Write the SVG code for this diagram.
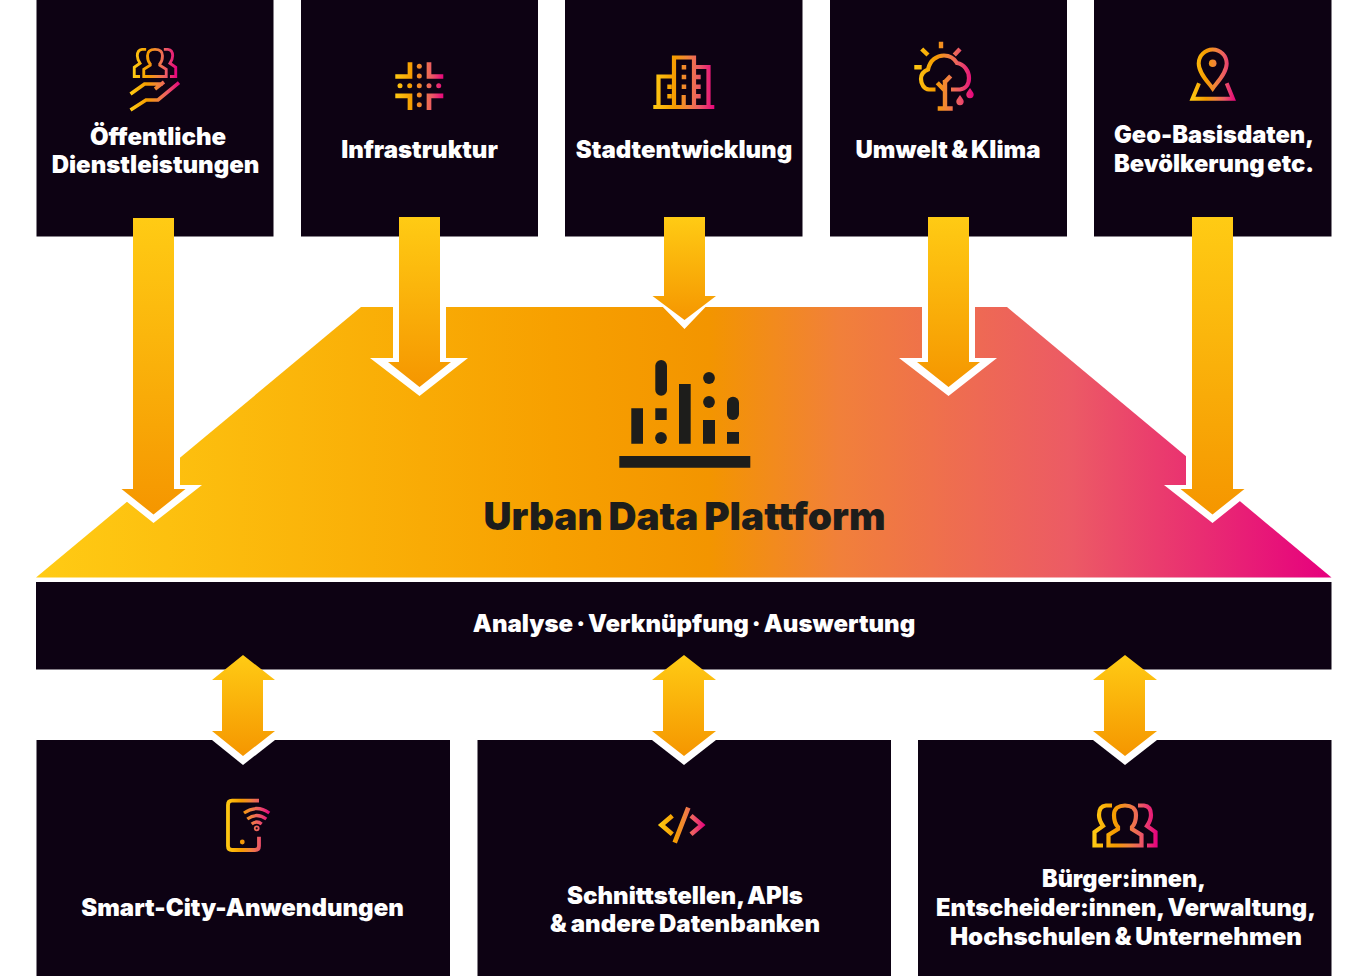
<svg xmlns="http://www.w3.org/2000/svg" xmlns:xlink="http://www.w3.org/1999/xlink" width="1366" height="976" viewBox="0 0 1366 976">
<style>
.box{fill:#0d0213}
.t{font-family:Inter,"Liberation Sans",sans-serif;font-weight:900;fill:#fff;font-size:24px;text-anchor:middle;word-spacing:-1px}
.s{fill:none;stroke-linejoin:miter}
.w{fill:#fff}
.a{fill:url(#ga)}
.b{fill:url(#gb)}
.k{fill:#1d1d1b}
</style>
<defs>
<linearGradient id="gt" gradientUnits="userSpaceOnUse" x1="36" y1="0" x2="1331" y2="0"><stop offset="0" stop-color="#ffcb14"/><stop offset=".4" stop-color="#f7a000"/><stop offset=".52" stop-color="#f39500"/><stop offset=".62" stop-color="#f1803a"/><stop offset=".8" stop-color="#ec5a65"/><stop offset="1" stop-color="#e6007e"/></linearGradient>
<linearGradient id="ga" gradientUnits="objectBoundingBox" x1="0" y1="0" x2="0" y2="1"><stop offset="0" stop-color="#ffcb14"/><stop offset="1" stop-color="#f59600"/></linearGradient>
<linearGradient id="gb" gradientUnits="objectBoundingBox" x1="0" y1="0" x2="0" y2="1"><stop offset="0" stop-color="#ffcb14"/><stop offset="1" stop-color="#f59600"/></linearGradient>
<linearGradient id="ic" gradientUnits="userSpaceOnUse" x1="0" y1="0" x2="1" y2="0"><stop offset="0" stop-color="#ffcb14"/><stop offset=".35" stop-color="#f59b00"/><stop offset=".55" stop-color="#f1843a"/><stop offset=".75" stop-color="#ec5a65"/><stop offset="1" stop-color="#e6007e"/></linearGradient>
<linearGradient id="ip" href="#ic" x1="1093" x2="1157"/>
<linearGradient id="i1" href="#ic" x1="130" x2="180"/>
<linearGradient id="i2" href="#ic" x1="395" x2="444"/>
<linearGradient id="i3" href="#ic" x1="653" x2="715"/>
<linearGradient id="i4" href="#ic" x1="914" x2="974"/>
<linearGradient id="i5" href="#ic" x1="1190" x2="1236"/>
<linearGradient id="i6" href="#ic" x1="226" x2="270"/>
<linearGradient id="i7" href="#ic" x1="659" x2="705"/>
<g id="people" fill="none" stroke="url(#ip)" stroke-width="4.200">
<path d="M1108.500 845.500V835L1118 829V827C1115 824 1114 820 1114 815C1114 808 1119 805.500 1125 805.500C1131 805.500 1136 808 1136 815C1136 820 1135 824 1132 827V829L1141.500 835V845.500Z"/>
<path d="M1112 805.500H1106C1101 806 1099 810 1099 815C1099 820 1101 823 1103 826L1094.500 832V845.500H1103"/>
<path d="M1138 805.500H1144C1149 806 1151 810 1151 815C1151 820 1149 823 1147 826L1155.500 832V845.500H1147"/>
</g>
</defs>

<g id="platform">
<path d="M36 577.500L361 307H1007L1331.500 577.500Z" fill="url(#gt)"/>
<path class="k" d="M619.300 456H750.300V467.700H619.300ZM631.300 408.300H643V443.700H631.300ZM655.300 408.300H666.700V420H655.300ZM679 384H690.700V443.700H679ZM703 420H715V443.700H703ZM727 432H739V443.700H727Z"/>
<rect class="k" x="655.300" y="360" width="11.700" height="35.700" rx="5.800"/>
<rect class="k" x="727" y="396.700" width="12" height="23.300" rx="6"/>
<circle class="k" cx="661" cy="438" r="5.900"/>
<circle class="k" cx="709" cy="402" r="5.900"/>
<circle class="k" cx="709" cy="378" r="5.900"/>
<text x="684.500" y="530" text-anchor="middle" style="font-family:Inter,'Liberation Sans',sans-serif;font-weight:900;font-size:38.800px;fill:#1d1d1b;word-spacing:-2px">Urban Data Plattform</text>
</g>

<g id="band">
<rect class="box" x="36" y="582" width="1295.500" height="87.500"/>
<text class="t" x="694" y="632" style="word-spacing:-1.800px">Analyse · Verknüpfung · Auswertung</text>
</g>

<g id="n1"><rect class="box" x="36.500" y="0" width="237" height="236.500"/>
<use href="#people" transform="translate(155 49) scale(.68) translate(-1125 -805)"/>
<path class="s" stroke="url(#i1)" stroke-width="3.600" d="M130.500 94L144.500 84H163M164 82L155 89M130.500 110L146 100H158L179 82.700"/>
<text class="t" x="158" y="144.500">Öffentliche</text><text class="t" x="155.500" y="173">Dienstleistungen</text></g>

<g id="n2"><rect class="box" x="301" y="0" width="237" height="236.500"/>
<path class="s" stroke="url(#i2)" stroke-width="4.700" d="M395.300 76.500H410V62.300M443.300 76.500H429V62.300M395.300 95.800H410V110M443.300 95.800H429V110"/>
<g fill="url(#i2)"><circle cx="400" cy="85.700" r="2.500"/><circle cx="409.700" cy="85.700" r="2.500"/><circle cx="419.300" cy="85.700" r="2.500"/><circle cx="429" cy="85.700" r="2.500"/><circle cx="438.700" cy="85.700" r="2.500"/><circle cx="419.300" cy="66.300" r="2.500"/><circle cx="419.300" cy="76" r="2.500"/><circle cx="419.300" cy="95" r="2.500"/><circle cx="419.300" cy="104.700" r="2.500"/></g>
<text class="t" x="419.500" y="158">Infrastruktur</text></g>

<g id="n3"><rect class="box" x="565" y="0" width="237.500" height="236.500"/>
<path class="s" stroke="url(#i3)" stroke-width="4.200" d="M672 76.500H658.500V106M674 106V57.500H694V106M694 67H708.500V106M653.300 107H714.300M683.700 106V95"/>
<path fill="url(#i3)" d="M681.700 65H686.200V69.500H681.700ZM681.700 74.700H686.200V79.200H681.700ZM681.700 84.400H686.200V88.900H681.700ZM667.300 84.400H671.800V88.900H667.300ZM667.300 94H671.800V98.500H667.300ZM695.700 74.700H700.700V79.200H695.700ZM695.700 84.400H700.700V88.900H695.700ZM695.700 94H700.700V98.500H695.700Z"/>
<text class="t" x="684" y="158">Stadtentwicklung</text></g>

<g id="n4"><rect class="box" x="830" y="0" width="237" height="236.500"/>
<path class="s" stroke="url(#i4)" stroke-width="4.400" d="M941 41.700V48.300M921.700 49L928 55M960 49L954.300 55M914.300 67.300H921.700M945 80V108M937.700 108.500H952.700M950.700 76L944 83M937.300 82.700L945 90.700"/>
<path class="s" stroke="url(#i4)" stroke-width="4.200" d="M935.500 89.500H929C924 89 921 84 921 79C921 74 924 71 928 69.500C930 60 937 55.500 944 55.500C949 55.500 954 58 957 63C964 64 969 71 969 78C969 85 965 89 960 89.500H951"/>
<path fill="url(#i4)" d="M960 95C958 98 956.300 99.500 956.300 101.500A3.700 3.700 0 0 0 963.700 101.500C963.700 99.500 962 98 960 95ZM970 88C968 91 966.300 92.500 966.300 94.500A3.700 3.700 0 0 0 973.700 94.500C973.700 92.500 972 91 970 88Z"/>
<text class="t" x="948" y="158" style="word-spacing:-1.500px">Umwelt &amp; Klima</text></g>

<g id="n5"><rect class="box" x="1094" y="0" width="237.500" height="236.500"/>
<path class="s" stroke="url(#i5)" stroke-width="4" d="M1212.700 88.500C1208 82 1198.700 73 1198.700 63.500A14 14 0 0 1 1226.700 63.500C1226.700 73 1217.500 82 1212.700 88.500ZM1199 83.300L1192.500 98.700H1233L1226.700 83.300"/>
<circle cx="1212.700" cy="63.300" r="3.800" fill="url(#i5)"/>
<text class="t" x="1214" y="143" textLength="200" lengthAdjust="spacingAndGlyphs">Geo-Basisdaten,</text><text class="t" x="1214" y="172" textLength="200" lengthAdjust="spacingAndGlyphs" style="word-spacing:-2px">Bevölkerung etc.</text></g>

<g id="n6"><rect class="box" x="36.500" y="740" width="413.500" height="236"/>
<path class="s" stroke="url(#i6)" stroke-width="3.800" d="M259 800.700H232Q228 800.700 228 805V846Q228 850 232 850H255Q259 850 259 846V836.700"/>
<circle cx="242.300" cy="842" r="2.400" fill="url(#i6)"/>
<path class="s" stroke="url(#i6)" stroke-width="3.200" d="M244 813Q256.700 804 269.300 813M247.300 819Q256.700 812 266.300 819M251.700 824Q256.700 820 261.700 824"/>
<circle cx="256.700" cy="828.300" r="2" class="s" stroke="url(#i6)" stroke-width="1.800"/>
<text class="t" x="242.500" y="916">Smart-City-Anwendungen</text></g>

<g id="n7"><rect class="box" x="477.500" y="740" width="413.500" height="236"/>
<path class="s" stroke="url(#i7)" stroke-width="4.700" d="M672.300 815.700L661.500 825L672.300 834.300M688.300 807.700L674.700 842.700M691 815.700L701.900 825L691 834.300"/>
<text class="t" x="685" y="904" style="word-spacing:-1.500px">Schnittstellen, APIs</text><text class="t" x="685" y="932" style="word-spacing:-.7px">&amp; andere Datenbanken</text></g>

<g id="n8"><rect class="box" x="918" y="740" width="413.500" height="236"/>
<use href="#people"/>
<text class="t" x="1124" y="887" textLength="164" lengthAdjust="spacingAndGlyphs">Bürger:innen,</text><text class="t" x="1126" y="916" textLength="380" lengthAdjust="spacingAndGlyphs">Entscheider:innen, Verwaltung,</text><text class="t" x="1126" y="945" textLength="352" lengthAdjust="spacingAndGlyphs">Hochschulen &amp; Unternehmen</text></g>

<g id="connectors">
<path class="w" d="M127 237H180V485H202L153.500 523L121 497V485H127Z"/>
<path class="a" d="M133 218H174V489H185.500L153.500 514.500L121.500 489H133Z"/>
<path class="w" d="M393 237H446V358H468L419.500 396L370 358H393Z"/>
<path class="a" d="M399 217H440V362H451L419.500 387L388 362H399Z"/>
<path class="w" d="M658 237H711V296H716L684.500 329L652 296H658Z"/>
<path class="a" d="M664 217H705V296H716L684.500 320L652.500 296H664Z"/>
<path class="w" d="M922 237H975V358H997L948.500 396L899 358H922Z"/>
<path class="a" d="M928 217H969V362H980L948.500 387L917 362H928Z"/>
<path class="w" d="M1186 237H1239V485H1245V497L1212.500 523L1164 485H1186Z"/>
<path class="a" d="M1192 217H1233V489H1244.500L1212.500 514.500L1180.500 489H1192Z"/>
<path class="w" d="M212 731V740L243 765L275 740V731Z"/>
<path class="b" d="M243 655L275 680H263V731H275L243 756L212 731H222V680H212Z"/>
<path class="w" d="M652 731V740L684 765L716 740V731Z"/>
<path class="b" d="M684 655L716 680H704V731H716L684 756L652 731H663V680H652Z"/>
<path class="w" d="M1093 731V740L1125 765L1157 740V731Z"/>
<path class="b" d="M1125 655L1157 680H1145V731H1157L1125 756L1093 731H1104V680H1093Z"/>
</g>
</svg>
